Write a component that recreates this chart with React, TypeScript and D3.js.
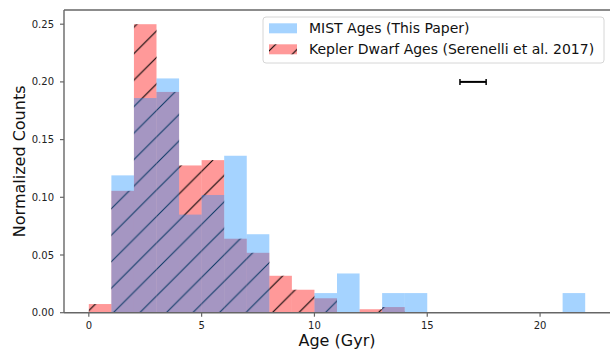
import React from "react";
import * as d3 from "d3";

// Histogram bins (left edges, width 1 Gyr)
const binStarts = [0, 1, 2, 3, 4, 5, 6, 7, 8, 9, 10, 11, 12, 13, 14, 15, 16, 17, 18, 19, 20, 21];
const mistValues = [0, 0.119, 0.186, 0.203, 0.085, 0.102, 0.136, 0.068, 0, 0, 0.017, 0.034, 0, 0.017, 0.017, 0, 0, 0, 0, 0, 0, 0.017];
const keplerValues = [0.0075, 0.1056, 0.25, 0.1913, 0.1276, 0.1322, 0.0641, 0.0519, 0.032, 0.0199, 0.0125, 0, 0.003, 0.0049, 0, 0, 0, 0, 0, 0, 0, 0];
const xTicks = [0, 5, 10, 15, 20];
const yTicks = [0, 0.05, 0.1, 0.15, 0.2, 0.25];
const errCenter = 17.03;
const errHalf = 0.58;
const errY = 0.2;
const legendLabels = ["MIST Ages (This Paper)", "Kepler Dwarf Ages (Serenelli et al. 2017)"];
const binWidth = 1;

const W = 610;
const H = 352;
const left = 64;
const right = 610;
const top = 10;
const bottom = 312.7;

const FONT = "DejaVu Sans, sans-serif";
const BLUE = "rgba(30,144,255,0.4)";
const RED = "rgba(255,0,0,0.4)";
const SPINE = "#666";
const HATCH = 26.5;

export default function App() {
  const x = d3.scaleLinear().domain([-1.1, 23.1]).range([left, right]);
  const y = d3.scaleLinear().domain([0, 0.2623]).range([bottom, top]);
  const fmt = d3.format(".2f");

  const hatchPattern = (
    <pattern id="hatch" patternUnits="userSpaceOnUse" x={2} y={0} width={HATCH} height={HATCH}>
      <line x1={0} y1={HATCH} x2={HATCH} y2={0} stroke="#000" strokeWidth={1} />
      <line x1={-2} y1={2} x2={2} y2={-2} stroke="#000" strokeWidth={1} />
      <line x1={HATCH - 2} y1={HATCH + 2} x2={HATCH + 2} y2={HATCH - 2} stroke="#000" strokeWidth={1} />
    </pattern>
  );

  const lx = 263;
  const ly = 17;
  const lw = 341;
  const lh = 46;

  return (
    <svg
      width={W}
      height={H}
      style={{ position: "absolute", left: 0, top: 0, background: "#fff" }}
      fontFamily={FONT}
    >
      <defs>
        {hatchPattern}
        <clipPath id="plotClip">
          <rect x={left} y={top} width={right - left} height={bottom - top} />
        </clipPath>
      </defs>
      <rect x={0} y={0} width={W} height={H} fill="#fff" />

      <g clipPath="url(#plotClip)">
        {/* Kepler bars (red, hatched) */}
        {binStarts.map((b, i) =>
          keplerValues[i] > 0 ? (
            <g key={"k" + i}>
              <rect
                x={x(b)}
                y={y(keplerValues[i])}
                width={x(b + binWidth) - x(b)}
                height={y(0) - y(keplerValues[i])}
                fill={RED}
              />
              <rect
                x={x(b)}
                y={y(keplerValues[i])}
                width={x(b + binWidth) - x(b)}
                height={y(0) - y(keplerValues[i])}
                fill="url(#hatch)"
              />
            </g>
          ) : null
        )}
        {/* MIST bars (blue) */}
        {binStarts.map((b, i) =>
          mistValues[i] > 0 ? (
            <rect
              key={"m" + i}
              x={x(b)}
              y={y(mistValues[i])}
              width={x(b + binWidth) - x(b)}
              height={y(0) - y(mistValues[i])}
              fill={BLUE}
            />
          ) : null
        )}
      </g>

      {/* error bar */}
      <g stroke="#000">
        <line x1={x(errCenter - errHalf)} x2={x(errCenter + errHalf)} y1={y(errY)} y2={y(errY)} strokeWidth={2} />
        <line x1={x(errCenter - errHalf)} x2={x(errCenter - errHalf)} y1={y(errY) - 3} y2={y(errY) + 3} strokeWidth={1.5} />
        <line x1={x(errCenter + errHalf)} x2={x(errCenter + errHalf)} y1={y(errY) - 3} y2={y(errY) + 3} strokeWidth={1.5} />
      </g>

      {/* spines */}
      <line x1={left} x2={right} y1={top} y2={top} stroke={SPINE} strokeWidth={1.4} />
      <line x1={left} x2={right} y1={bottom} y2={bottom} stroke={SPINE} strokeWidth={1.4} />
      <line x1={left} x2={left} y1={top} y2={bottom} stroke={SPINE} strokeWidth={1.4} />

      {/* x ticks */}
      {xTicks.map((t) => (
        <g key={"xt" + t}>
          <line x1={x(t)} x2={x(t)} y1={bottom} y2={bottom + 4} stroke={SPINE} strokeWidth={1.2} />
          <text x={x(t)} y={bottom + 16} textAnchor="middle" fontSize={10} fill="#222">
            {t}
          </text>
        </g>
      ))}
      {/* y ticks */}
      {yTicks.map((t) => (
        <g key={"yt" + t}>
          <line x1={left - 4} x2={left} y1={y(t)} y2={y(t)} stroke={SPINE} strokeWidth={1.2} />
          <text x={left - 10} y={y(t) + 3.6} textAnchor="end" fontSize={10} fill="#222">
            {fmt(t)}
          </text>
        </g>
      ))}

      {/* axis labels */}
      <text x={x(11)} y={345.5} textAnchor="middle" fontSize={16} fill="#111">
        Age (Gyr)
      </text>
      <text
        transform={`translate(25, ${(top + bottom) / 2}) rotate(-90)`}
        textAnchor="middle"
        fontSize={16}
        fill="#111"
      >
        Normalized Counts
      </text>

      {/* legend */}
      <rect x={lx} y={ly} width={lw} height={lh} rx={3} fill="rgba(255,255,255,0.8)" stroke="#d6d6d6" strokeWidth={1} />
      <rect x={269} y={23.3} width={28} height={10} fill={BLUE} />
      <rect x={269} y={44.3} width={28} height={10} fill={RED} />
      <rect x={269} y={44.3} width={28} height={10} fill="url(#hatch)" />
      <text x={309} y={33.4} fontSize={14} fill="#111">
        {legendLabels[0]}
      </text>
      <text x={309} y={54.4} fontSize={14} fill="#111">
        {legendLabels[1]}
      </text>
    </svg>
  );
}
